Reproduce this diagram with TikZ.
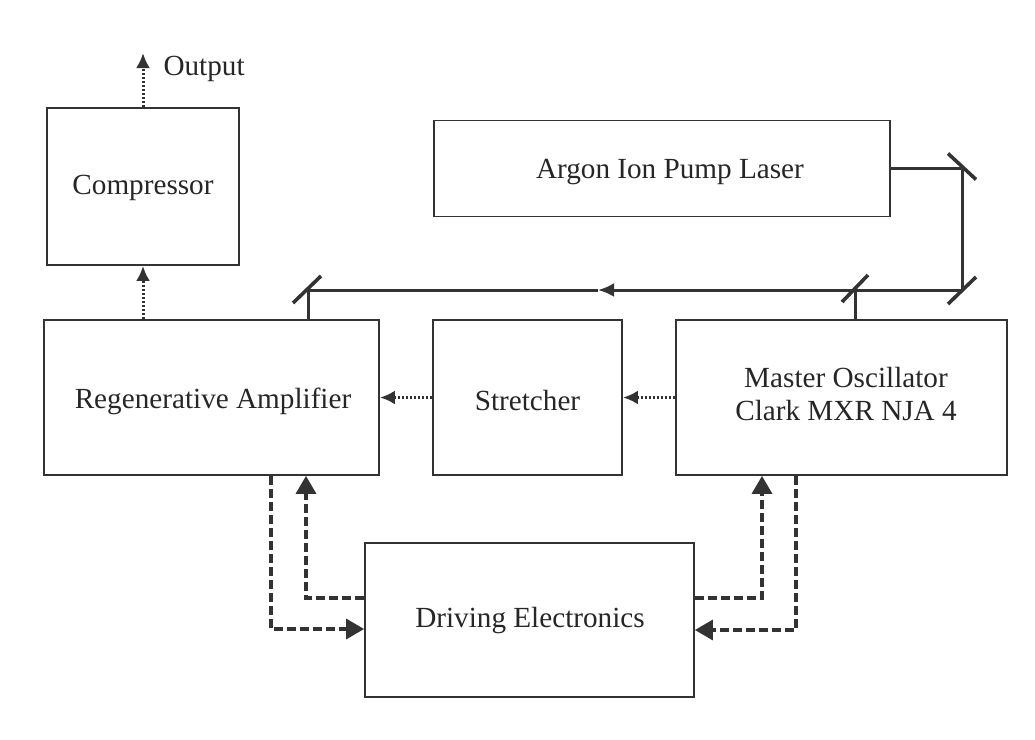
\documentclass[tikz,border=0pt]{standalone}
\usepackage{fontspec}
\setmainfont{Liberation Serif}
\usetikzlibrary{arrows.meta,calc}

\tikzset{
  blk/.style={draw=black!80, line width=1.8pt, minimum width=#1, inner sep=0pt},
  lbl/.style={text=black!85, font=\fontsize{29.2}{33}\selectfont, align=center},
  beam/.style={draw=black!80, line width=3pt},
  mirror/.style={draw=black!80, line width=3.6pt},
  dotbeam/.style={draw=black!80, line width=3pt, dash pattern=on 2.2pt off 1.8pt,
                  -{Latex[length=15pt,width=14pt]}},
  ctrl/.style={draw=black!80, line width=3.4pt, dash pattern=on 9pt off 4pt},
  ctrlarr/.style={ctrl, -{Triangle[length=18pt,width=20pt]}}
}

\begin{document}
\begin{tikzpicture}[x=1pt, y=-1pt, line cap=butt, line join=miter]

  %% ════ boxes ════
  \node[blk=192pt, minimum height=157pt] (comp)    at (143.0,186.5) {};
  \node[blk=456pt, minimum height=96pt]  (argon)   at (662.0,168.5) {};
  \node[blk=335pt, minimum height=155pt] (regen)   at (211.5,397.5) {};
  \node[blk=189pt, minimum height=155pt] (stretch) at (527.5,397.5) {};
  \node[blk=331pt, minimum height=155pt] (mo)      at (841.5,397.5) {};
  \node[blk=329pt, minimum height=154pt] (drive)   at (529.5,620.0) {};

  %% ════ box texts ════
  \node[lbl] at (143.0,188.0) {Compressor};
  \node[lbl] at (670.0,172.0) {Argon Ion Pump Laser};
  \node[lbl] at (213.0,401.0) {Regenerative Amplifier};
  \node[lbl] at (527.5,401.0) {Stretcher};
  \node[lbl] at (846.0,394.0) {Master Oscillator\\Clark MXR NJA 4};
  \node[lbl] at (530.0,621.0) {Driving Electronics};

  %% ════ pump beam and mirrors ════
  \coordinate (m1) at (962.0,168.5);   % top right
  \coordinate (m2) at (962.0,290.0);   % bottom right
  \coordinate (m3) at (855.0,290.0);   % pick-off to oscillator
  \coordinate (m4) at (308.0,290.0);   % pick-off to amplifier
  \coordinate (bmid) at (598.0,290.0);

  \draw[beam] (argon.east) -- (m1) -- (m2);
  \draw[beam, -{Latex[length=16pt,width=14pt]}] (m2) -- (bmid);
  \draw[beam] (bmid) -- (m4);
  \draw[beam] (m3) -- (m3 |- mo.north);
  \draw[beam] (m4) -- (m4 |- regen.north);

  \draw[mirror] ($(m1)+(-14,-15)$) -- ($(m1)+(14,11)$);
  \draw[mirror] ($(m2)+(-14,14)$) -- ($(m2)+(14,-13)$);
  \draw[mirror] ($(m3)+(-13,12)$) -- ($(m3)+(13,-15)$);
  \draw[mirror] ($(m4)+(-15,13)$) -- ($(m4)+(13,-14)$);

  %% ════ seed / output path (dotted) ════
  \coordinate (out) at (143.0,53.0);
  \draw[dotbeam] (mo.west) -- (stretch.east);
  \draw[dotbeam] (stretch.west) -- (regen.east);
  \draw[dotbeam] (regen.north -| comp.south) -- (comp.south);
  \draw[dotbeam] (comp.north) -- (out);
  \node[lbl, anchor=west] at (160.0,69.0) {Output};

  %% ════ control lines (dashed) ════
  \coordinate (ra) at (271.0,629.0);
  \coordinate (rb) at (306.0,598.0);
  \coordinate (oa) at (762.0,598.0);
  \coordinate (ob) at (796.0,630.0);

  \draw[ctrlarr] (regen.south -| ra) |- (drive.west |- ra);
  \draw[ctrlarr] (drive.west |- rb) -| (regen.south -| rb);
  \draw[ctrlarr] (drive.east |- oa) -| (mo.south -| oa);
  \draw[ctrlarr] (mo.south -| ob) |- (drive.east |- ob);

  % fix the canvas
  \pgfresetboundingbox
  \path[use as bounding box] (0,0) rectangle (1035,739);
\end{tikzpicture}
\end{document}
